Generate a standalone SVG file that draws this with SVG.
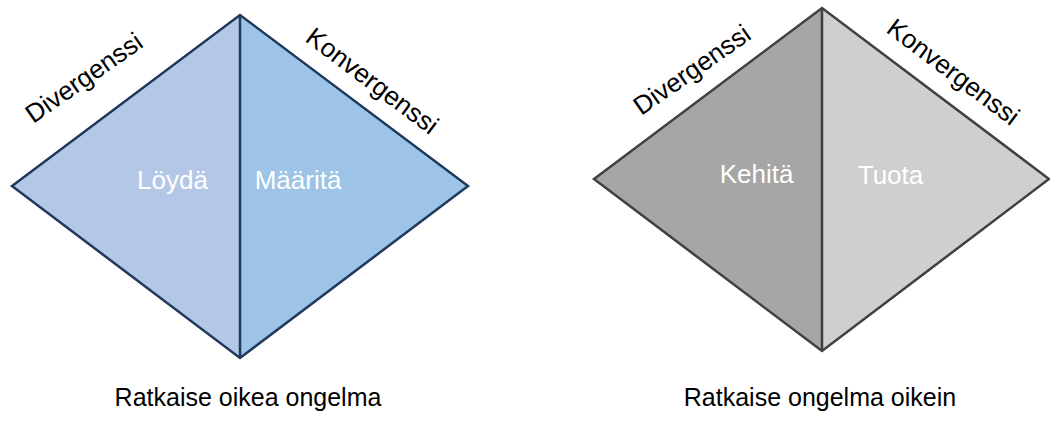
<svg xmlns="http://www.w3.org/2000/svg" width="1050" height="439" viewBox="0 0 1050 439">
  <style>
    .lbl { font-family: "Liberation Sans", Arial, sans-serif; font-size: 26px; fill: #000000; text-anchor: middle; }
    .inner { font-family: "Liberation Sans", Arial, sans-serif; font-size: 26px; fill: #ffffff; text-anchor: middle; }
    .cap { font-family: "Liberation Sans", Arial, sans-serif; font-size: 25px; fill: #000000; text-anchor: middle; }
    .blue { stroke: #1f3a5c; stroke-width: 2.5; stroke-linejoin: miter; }
    .grey { stroke: #404040; stroke-width: 2.5; stroke-linejoin: miter; }
  </style>
  <rect width="1050" height="439" fill="#ffffff"/>

  <g id="diamond-left">
    <polygon points="12,186 240,15 240,358" fill="#b4c7e7"/>
    <polygon points="240,15 468,186 240,358" fill="#9dc3e6"/>
    <polygon points="12,186 240,15 468,186 240,358" fill="none" class="blue"/>
    <line x1="240" y1="15" x2="240" y2="358" class="blue" stroke-width="4"/>
    <text class="inner" x="172.5" y="189">Löydä</text>
    <text class="inner" x="298" y="189">Määritä</text>
    <text class="lbl" transform="translate(89,85) rotate(-35)">Divergenssi</text>
    <text class="lbl" transform="translate(367,88) rotate(37)">Konvergenssi</text>
    <text class="cap" x="248" y="406">Ratkaise oikea ongelma</text>
  </g>

  <g id="diamond-right">
    <polygon points="594,179 822,8 822,351" fill="#a6a6a6"/>
    <polygon points="822,8 1049,179 822,351" fill="#d0cece"/>
    <polygon points="594,179 822,8 1049,179 822,351" fill="none" class="grey"/>
    <line x1="822" y1="8" x2="822" y2="351" class="grey" stroke-width="4"/>
    <text class="inner" x="756.5" y="183">Kehitä</text>
    <text class="inner" x="890.5" y="183.5" fill="#f2f2f2">Tuota</text>
    <text class="lbl" transform="translate(697,77) rotate(-35)">Divergenssi</text>
    <text class="lbl" transform="translate(948,79) rotate(37)">Konvergenssi</text>
    <text class="cap" x="820" y="406">Ratkaise ongelma oikein</text>
  </g>

  <g id="connectors"/>
</svg>
